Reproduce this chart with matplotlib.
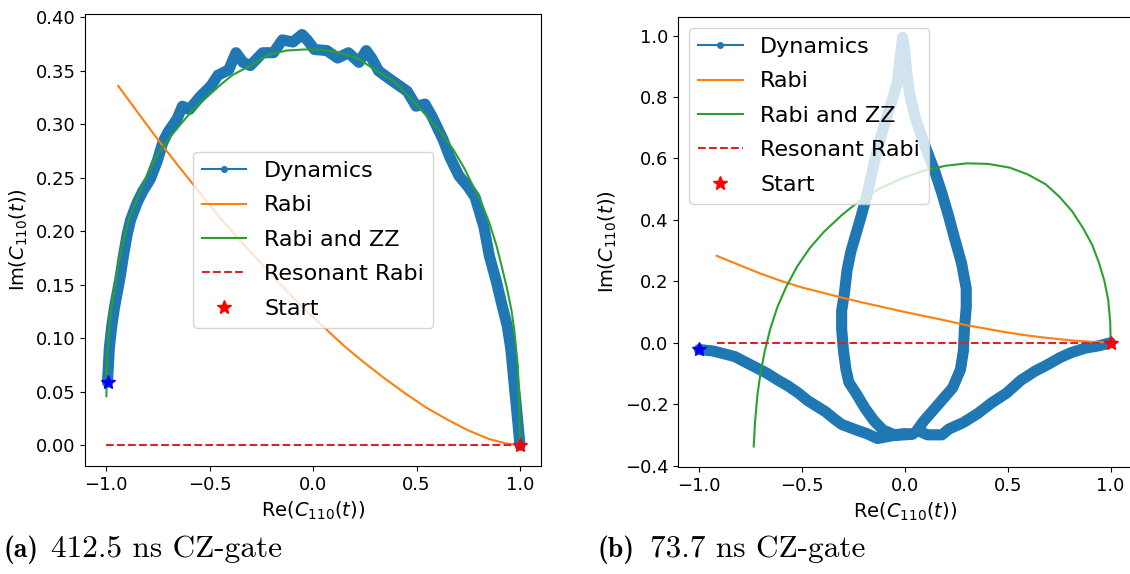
import matplotlib
matplotlib.use('Agg')
import matplotlib.pyplot as plt
from matplotlib.lines import Line2D

plt.rcParams['font.size'] = 13

# ---- (a) 412.5 ns gate ----
dyn_a_re = [1.0, 0.984, 0.972, 0.955, 0.938, 0.912, 0.886, 0.852, 0.826, 0.783,
            0.748, 0.705, 0.662, 0.628, 0.576, 0.541, 0.498, 0.455, 0.403, 0.352,
            0.317, 0.283, 0.257, 0.222, 0.171, 0.119, 0.067, 0.007, -0.028, -0.053,
            -0.097, -0.148, -0.191, -0.243, -0.303, -0.338, -0.372, -0.407, -0.459, -0.493,
            -0.545, -0.597, -0.631, -0.657, -0.700, -0.726, -0.752, -0.786, -0.821, -0.847,
            -0.881, -0.898, -0.916, -0.933, -0.959, -0.972, -0.984, -0.993]
dyn_a_im = [0.0, 0.033, 0.057, 0.091, 0.112, 0.132, 0.153, 0.177, 0.204, 0.232,
            0.242, 0.252, 0.269, 0.286, 0.307, 0.319, 0.317, 0.331, 0.338, 0.345,
            0.350, 0.362, 0.369, 0.358, 0.367, 0.362, 0.369, 0.370, 0.379, 0.384,
            0.377, 0.379, 0.367, 0.367, 0.355, 0.358, 0.367, 0.351, 0.346, 0.336,
            0.326, 0.314, 0.317, 0.305, 0.293, 0.283, 0.266, 0.249, 0.238, 0.228,
            0.211, 0.197, 0.177, 0.156, 0.129, 0.112, 0.091, 0.059]

rabi_a_re = [1.0, 0.93, 0.85, 0.75, 0.65, 0.55, 0.45, 0.35, 0.25, 0.15,
             0.05, -0.05, -0.15, -0.25, -0.35, -0.45, -0.55, -0.65, -0.75, -0.85,
             -0.941]
rabi_a_im = [0.0, 0.002, 0.006, 0.014, 0.024, 0.035, 0.048, 0.062, 0.077, 0.093,
             0.111, 0.129, 0.149, 0.170, 0.191, 0.213, 0.237, 0.261, 0.286, 0.312,
             0.336]

zz_a_re = [1.0, 0.998, 0.990, 0.972, 0.959, 0.938, 0.912, 0.886, 0.852, 0.817,
           0.774, 0.731, 0.679, 0.628, 0.567, 0.507, 0.438, 0.386, 0.300, 0.214,
           0.128, 0.041, -0.045, -0.131, -0.217, -0.303, -0.390, -0.441, -0.510, -0.579,
           -0.640, -0.700, -0.760, -0.803, -0.847, -0.890, -0.916, -0.941, -0.959, -0.976,
           -0.988, -0.993, -0.997, -0.998]
zz_a_im = [0.0, 0.023, 0.074, 0.108, 0.126, 0.146, 0.167, 0.187, 0.208, 0.225,
           0.242, 0.259, 0.276, 0.290, 0.304, 0.317, 0.331, 0.341, 0.351, 0.362,
           0.367, 0.370, 0.370, 0.369, 0.365, 0.355, 0.346, 0.338, 0.326, 0.314,
           0.300, 0.286, 0.269, 0.252, 0.232, 0.211, 0.191, 0.170, 0.146, 0.126,
           0.102, 0.088, 0.067, 0.046]

res_a_re = [-1.0, 1.0]
res_a_im = [0.0, 0.0]
end_a = (-0.99, 0.059)

# ---- (b) 73.7 ns gate ----
dyn_b_re = [1.0, 0.944, 0.875, 0.806, 0.753, 0.701, 0.632, 0.563, 0.493, 0.424,
            0.354, 0.285, 0.215, 0.181, 0.111, 0.060,
            0.094, 0.163, 0.233, 0.271, 0.285, 0.290, 0.299, 0.299, 0.276,
            0.241, 0.212, 0.181, 0.146, 0.125, 0.085, 0.050, 0.024, 0.010, -0.002,
            -0.010,
            -0.024, -0.036, -0.063, -0.097, -0.128, -0.153, -0.181, -0.210, -0.236, -0.262,
            -0.280, -0.292, -0.306, -0.306, -0.297, -0.285, -0.271, -0.236, -0.193, -0.149,
            -0.106, -0.050, 0.000, 0.040, -0.060, -0.132,
            -0.184, -0.236, -0.306, -0.340, -0.384, -0.427, -0.470, -0.514, -0.566, -0.618,
            -0.670, -0.722, -0.774, -0.826, -0.878, -0.931, -0.974, -0.997]
dyn_b_im = [0.0, -0.010, -0.018, -0.033, -0.049, -0.069, -0.093, -0.123, -0.165, -0.195,
            -0.231, -0.260, -0.281, -0.300, -0.300, -0.285,
            -0.254, -0.201, -0.147, -0.087, -0.027, 0.044, 0.116, 0.176, 0.259,
            0.343, 0.415, 0.486, 0.558, 0.594, 0.665, 0.737, 0.809, 0.881, 0.964,
            0.994,
            0.916, 0.845, 0.785, 0.713, 0.642, 0.570, 0.486, 0.415, 0.355, 0.295,
            0.235, 0.164, 0.104, 0.044, -0.027, -0.087, -0.129, -0.165, -0.213, -0.254,
            -0.284, -0.300, -0.296, -0.298, -0.303, -0.312,
            -0.296, -0.284, -0.266, -0.249, -0.225, -0.207, -0.189, -0.165, -0.141, -0.121,
            -0.099, -0.081, -0.063, -0.045, -0.036, -0.027, -0.024, -0.022]

rabi_b_re = [1.0, 0.9, 0.8, 0.7, 0.6, 0.5, 0.4, 0.3, 0.2, 0.1,
             0.0, -0.1, -0.2, -0.3, -0.4, -0.5, -0.6, -0.7, -0.8, -0.913]
rabi_b_im = [0.0, 0.003, 0.008, 0.015, 0.023, 0.033, 0.045, 0.057, 0.072, 0.086,
             0.100, 0.115, 0.130, 0.146, 0.163, 0.180, 0.201, 0.225, 0.252, 0.283]

zz_b_re = [1.0, 0.998, 0.988, 0.970, 0.944, 0.910, 0.866, 0.814, 0.753, 0.684,
           0.597, 0.510, 0.406, 0.302, 0.198, 0.094, -0.010, -0.115, -0.219, -0.306,
           -0.392, -0.462, -0.523, -0.575, -0.618, -0.653, -0.679, -0.700, -0.715, -0.726,
           -0.733]
zz_b_im = [0.0, 0.068, 0.140, 0.200, 0.259, 0.319, 0.373, 0.427, 0.474, 0.516,
           0.548, 0.570, 0.582, 0.584, 0.576, 0.560, 0.536, 0.504, 0.462, 0.415,
           0.361, 0.307, 0.247, 0.182, 0.116, 0.044, -0.027, -0.099, -0.171, -0.254,
           -0.338]

res_b_re = [-0.913, 1.0]
res_b_im = [0.0, 0.0]
end_b = (-0.997, -0.022)

start = (1.0, 0.0)
ticks_re = [-1.0, -0.5, 0.0, 0.5, 1.0]

fig = plt.figure(figsize=(11.3, 5.74), dpi=100)
ax1 = fig.add_axes([0.0755, 0.1882, 0.403, 0.788])
ax2 = fig.add_axes([0.6001, 0.1865, 0.401, 0.784])


def draw(ax, dre, dim, rre, rim, zre, zim, sre, sim, end, loc):
    ax.plot(dre, dim, color='C0', lw=8, solid_joinstyle='round',
            solid_capstyle='round')
    ax.plot(rre, rim, color='C1', lw=1.5)
    ax.plot(zre, zim, color='C2', lw=1.5)
    ax.plot(sre, sim, color='C3', lw=1.5, ls='--')
    ax.plot(*start, marker='*', color='red', ms=10, ls='none')
    ax.plot(*end, marker='*', color='blue', ms=10, ls='none')
    handles = [Line2D([], [], color='C0', marker='.', lw=1.5, ms=8),
               Line2D([], [], color='C1', lw=1.5),
               Line2D([], [], color='C2', lw=1.5),
               Line2D([], [], color='C3', lw=1.5, ls='--'),
               Line2D([], [], color='red', marker='*', ls='none', ms=10)]
    ax.legend(handles, ['Dynamics', 'Rabi', 'Rabi and ZZ', 'Resonant Rabi', 'Start'],
              loc=loc, fontsize=16, labelspacing=0.65)
    ax.set_xlabel(r'Re($C_{110}(t)$)', fontsize=14)
    ax.set_ylabel(r'Im($C_{110}(t)$)', fontsize=14)
    ax.set_xlim(-1.1, 1.1)
    ax.set_xticks(ticks_re)


draw(ax1, dyn_a_re, dyn_a_im, rabi_a_re, rabi_a_im, zz_a_re, zz_a_im,
     res_a_re, res_a_im, end_a, 'center')
ax1.set_ylim(-0.0192, 0.4035)

draw(ax2, dyn_b_re, dyn_b_im, rabi_b_re, rabi_b_im, zz_b_re, zz_b_im,
     res_b_re, res_b_im, end_b, 'upper left')
ax2.set_ylim(-0.4046, 1.0606)

cap_y = 0.03
fig.text(3 / 1130, cap_y, '(a)', family='cmb10', fontsize=20, va='baseline')
fig.text(51 / 1130, cap_y, '412.5 ns CZ-gate', family='cmr10', fontsize=22.5, va='baseline')
fig.text(597 / 1130, cap_y, '(b)', family='cmb10', fontsize=20, va='baseline')
fig.text(650 / 1130, cap_y, '73.7 ns CZ-gate', family='cmr10', fontsize=22.5, va='baseline')

fig.savefig('out.png', dpi=100)
